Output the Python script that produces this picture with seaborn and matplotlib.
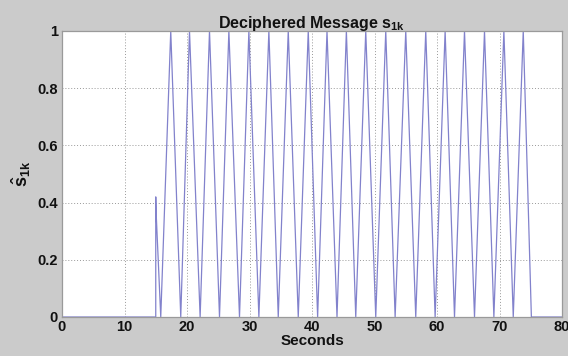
import matplotlib
matplotlib.use("Agg")
import matplotlib.pyplot as plt
import seaborn as sns
import numpy as np
import pandas as pd

# Values
times = [0.0, 15.0, 15.0, 15.05, 15.8, 17.4, 19.0, 20.4, 22.1, 23.6, 25.2, 26.7,
         28.4, 29.9, 31.5, 33.1, 34.6, 36.2, 37.8, 39.4, 40.9, 42.4, 44.0, 45.5,
         47.0, 48.6, 50.2, 51.8, 53.3, 55.0, 56.6, 58.2, 59.7, 61.3, 62.8, 64.4,
         66.0, 67.6, 69.1, 70.7, 72.2, 73.8, 75.1, 80.0]
values = [0.0, 0.0, 0.42, 0.37, 0.0, 1.0, 0.0, 1.0, 0.0, 1.0, 0.0, 1.0,
          0.0, 1.0, 0.0, 1.0, 0.0, 1.0, 0.0, 1.0, 0.0, 1.0, 0.0, 1.0,
          0.0, 1.0, 0.0, 1.0, 0.0, 1.0, 0.0, 1.0, 0.0, 1.0, 0.0, 1.0,
          0.0, 1.0, 0.0, 1.0, 0.0, 1.0, 0.0, 0.0]
x_ticks = [0, 10, 20, 30, 40, 50, 60, 70, 80]
y_ticks = [0, 0.2, 0.4, 0.6, 0.8, 1]
y_tick_labels = ["0", "0.2", "0.4", "0.6", "0.8", "1"]

df = pd.DataFrame({"t": times, "s": values})

sns.set_theme(style="white")
plt.rcParams["font.family"] = ["Liberation Sans", "DejaVu Sans"]
plt.rcParams["mathtext.fontset"] = "custom"
plt.rcParams["mathtext.rm"] = "Liberation Sans:bold"
plt.rcParams["mathtext.it"] = "Liberation Sans:bold"
plt.rcParams["mathtext.bf"] = "Liberation Sans:bold"

fig = plt.figure(figsize=(5.68, 3.56), dpi=100, facecolor="#cbcbcb")
ax = fig.add_axes([62 / 568, 1 - 317 / 356, 500 / 568, 286 / 356])
ax.set_facecolor("white")

sns.lineplot(data=df, x="t", y="s", ax=ax, sort=False, estimator=None,
             color="#8282cc", linewidth=0.9)

ax.set_xlim(0, 80)
ax.set_ylim(0, 1)
ax.set_xticks(x_ticks)
ax.set_yticks(y_ticks)
ax.set_xticklabels([str(v) for v in x_ticks])
ax.set_yticklabels(y_tick_labels)

ax.grid(True, linestyle=(0, (1, 2)), color="#999999", linewidth=0.7)
for sp in ax.spines.values():
    sp.set_color("#9a9a9a")
    sp.set_linewidth(0.9)

ax.tick_params(direction="in", length=3, width=0.6, color="#9a9a9a",
               labelsize=10.5, pad=2, labelcolor="#111111")
ax.tick_params(axis="y", pad=3)
for lab in ax.get_xticklabels() + ax.get_yticklabels():
    lab.set_fontweight("bold")

ax.set_title(r"Deciphered Message s$_{\mathbf{1k}}$", fontsize=11.5,
             fontweight="bold", pad=2, color="#111111")
ax.set_xlabel("Seconds", fontsize=11, fontweight="bold", labelpad=0,
              color="#111111")
ax.set_ylabel(r"$\hat{\mathbf{s}}_{\mathbf{1k}}$", fontsize=13,
              labelpad=3, color="#111111")

fig.savefig("out.png", dpi=100, facecolor=fig.get_facecolor())
